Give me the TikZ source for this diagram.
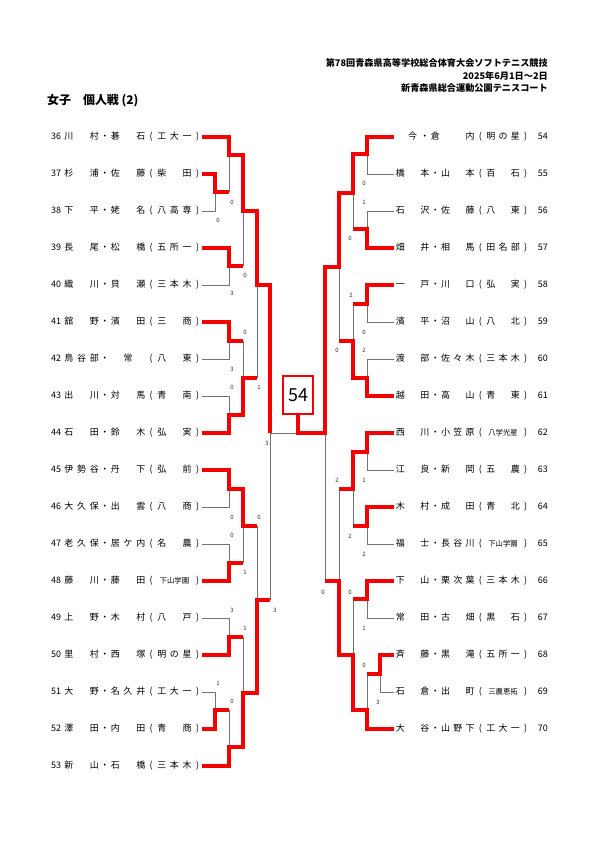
\documentclass[tikz,border=0pt]{standalone}
\usepackage{fontspec}
\setmainfont{Noto Sans CJK JP}
\usepackage{xcolor}
\usepackage{tikz}
\definecolor{winred}{RGB}{245,0,0}
\definecolor{linegray}{RGB}{115,115,115}
\newlength\cw
\newcommand\ch[1]{\makebox[\cw]{#1}}
\newcommand\pa[1]{\makebox[8.3bp]{#1}}
\newcommand\ent[9]{\ch{#1}\ch{#2}\ch{#3}\pa{・}\ch{#4}\ch{#5}\ch{#6}\pa{(}\ch{#7}\ch{#8}\ch{#9}\pa{)}}
\newcommand\lno[1]{\makebox[0pt][r]{#1\hspace{1.5bp}}}
\newcommand\rno[1]{\makebox[0pt][l]{\hspace{8bp}#1}}
\newcommand\sml[1]{{\fontsize{7.4}{8}\selectfont #1}}
\tikzset{
	lname/.style={anchor=east, inner sep=0pt, font=\fontsize{9}{10}\selectfont,
		execute at begin node={\setlength\cw{12.7bp}}},
	rname/.style={anchor=west, inner sep=0pt, font=\fontsize{9}{10}\selectfont,
		execute at begin node={\setlength\cw{12.3bp}}},
	win/.style={draw=winred, line width=3.2bp},
	lose/.style={draw=linegray, line width=0.8bp},
	sc/.style={font=\fontsize{6}{6}\selectfont, inner sep=0pt, text=black!80},
	hdr/.style={anchor=east, inner sep=0pt, font=\bfseries\fontsize{9.2}{10}\selectfont},
	champ/.style={draw=winred, line width=2.2bp, minimum width=30bp, minimum height=38bp,
		inner sep=0pt, font=\fontsize{18}{18}\selectfont},
}
\begin{document}
\begin{tikzpicture}[x=1bp, y=-1bp]
	\useasboundingbox (0,0) rectangle (595,842);
	% header
	\node[hdr] (h1) at (548,63) {第78回青森県高等学校総合体育大会ソフトテニス競技};
	\node[hdr] (h2) at (548,75.5) {2025年6月1日～2日};
	\node[hdr] (h3) at (548,88) {新青森県総合運動公園テニスコート};
	\node[anchor=west, inner sep=0pt, font=\bfseries\fontsize{12}{12}\selectfont] (ttl) at (47,101) {女子　個人戦 (2)};
	% left half
	\node[lname] (e36) at (202,137) {\lno{36}\ent{川}{}{村}{碁}{}{石}{工}{大}{一}};
	\node[lname] (e37) at (202,174) {\lno{37}\ent{杉}{}{浦}{佐}{}{藤}{柴}{}{田}};
	\node[lname] (e38) at (202,211) {\lno{38}\ent{下}{}{平}{姥}{}{名}{八}{高}{専}};
	\node[lname] (e39) at (202,248) {\lno{39}\ent{長}{}{尾}{松}{}{橋}{五}{所}{一}};
	\node[lname] (e40) at (202,285) {\lno{40}\ent{織}{}{川}{貝}{}{瀬}{三}{本}{木}};
	\node[lname] (e41) at (202,322) {\lno{41}\ent{舘}{}{野}{濱}{}{田}{三}{}{商}};
	\node[lname] (e42) at (202,359) {\lno{42}\ent{鳥}{谷}{部}{}{常}{}{八}{}{東}};
	\node[lname] (e43) at (202,396) {\lno{43}\ent{出}{}{川}{対}{}{馬}{青}{}{南}};
	\node[lname] (e44) at (202,433) {\lno{44}\ent{石}{}{田}{鈴}{}{木}{弘}{}{実}};
	\node[lname] (e45) at (202,470) {\lno{45}\ent{伊}{勢}{谷}{丹}{}{下}{弘}{}{前}};
	\node[lname] (e46) at (202,507) {\lno{46}\ent{大}{久}{保}{出}{}{雲}{八}{}{商}};
	\node[lname] (e47) at (202,544) {\lno{47}\ent{老}{久}{保}{居}{ケ}{内}{名}{}{農}};
	\node[lname] (e48) at (202,581) {\lno{48}\ent{藤}{}{川}{藤}{}{田}{}{\sml{下山学園}}{}};
	\node[lname] (e49) at (202,618) {\lno{49}\ent{上}{}{野}{木}{}{村}{八}{}{戸}};
	\node[lname] (e50) at (202,655) {\lno{50}\ent{里}{}{村}{西}{}{塚}{明}{の}{星}};
	\node[lname] (e51) at (202,692) {\lno{51}\ent{大}{}{野}{名}{久}{井}{工}{大}{一}};
	\node[lname] (e52) at (202,729) {\lno{52}\ent{澤}{}{田}{内}{}{田}{青}{}{商}};
	\node[lname] (e53) at (202,766) {\lno{53}\ent{新}{}{山}{石}{}{橋}{三}{本}{木}};
	% right half
	\node[rname] (e54) at (394,137) {\ch{}\ch{今}\ch{・}\pa{倉}\ch{}\ch{}\ch{内}\pa{(}\ch{明}\ch{の}\ch{星}\pa{)}\rno{54}};
	\node[rname] (e55) at (394,174) {\ent{橋}{}{本}{山}{}{本}{百}{}{石}\rno{55}};
	\node[rname] (e56) at (394,211) {\ent{石}{}{沢}{佐}{}{藤}{八}{}{東}\rno{56}};
	\node[rname] (e57) at (394,248) {\ent{畑}{}{井}{相}{}{馬}{田}{名}{部}\rno{57}};
	\node[rname] (e58) at (394,285) {\ent{一}{}{戸}{川}{}{口}{弘}{}{実}\rno{58}};
	\node[rname] (e59) at (394,322) {\ent{濱}{}{平}{沼}{}{山}{八}{}{北}\rno{59}};
	\node[rname] (e60) at (394,359) {\ent{渡}{}{部}{佐}{々}{木}{三}{本}{木}\rno{60}};
	\node[rname] (e61) at (394,396) {\ent{越}{}{田}{高}{}{山}{青}{}{東}\rno{61}};
	\node[rname] (e62) at (394,433) {\ent{西}{}{川}{小}{笠}{原}{}{\sml{八学光星}}{}\rno{62}};
	\node[rname] (e63) at (394,470) {\ent{江}{}{良}{新}{}{岡}{五}{}{農}\rno{63}};
	\node[rname] (e64) at (394,507) {\ent{木}{}{村}{成}{}{田}{青}{}{北}\rno{64}};
	\node[rname] (e65) at (394,544) {\ent{福}{}{士}{長}{谷}{川}{}{\sml{下山学園}}{}\rno{65}};
	\node[rname] (e66) at (394,581) {\ent{下}{}{山}{栗}{次}{葉}{三}{本}{木}\rno{66}};
	\node[rname] (e67) at (394,618) {\ent{常}{}{田}{古}{}{畑}{黒}{}{石}\rno{67}};
	\node[rname] (e68) at (394,655) {\ent{斉}{}{藤}{黒}{}{滝}{五}{所}{一}\rno{68}};
	\node[rname] (e69) at (394,692) {\ent{石}{}{倉}{出}{}{町}{}{\sml{三農恵拓}}{}\rno{69}};
	\node[rname] (e70) at (394,729) {\ent{大}{}{谷}{山}{野}{下}{工}{大}{一}\rno{70}};
	% winner box
	\node[champ] (champ) at (298,395) {54};
	\coordinate (fin) at (298,433);
	% losing lines
	\draw[lose] (e38.east) -| (215,192);
	\draw[lose] (229,155) -- (229,192);
	\draw[lose] (e40.east) -| (229,266);
	\draw[lose] (243,211) -- (243,266);
	\draw[lose] (e42.east) -| (229,341);
	\draw[lose] (e43.east) -| (229,415);
	\draw[lose] (243,341) -- (243,378);
	\draw[lose] (257,285) -- (257,378);
	\draw[lose] (fin) -| (270,600);
	\draw[lose] (e46.east) -| (229,489);
	\draw[lose] (e47.east) -| (229,563);
	\draw[lose] (243,526) -- (243,563);
	\draw[lose] (257,526) -- (257,600);
	\draw[lose] (e49.east) -| (229,637);
	\draw[lose] (243,637) -- (243,693);
	\draw[lose] (e51.east) -| (215,710);
	\draw[lose] (229,710) -- (229,747);
	\draw[lose] (e55.west) -| (367,154);
	\draw[lose] (e56.west) -| (367,229);
	\draw[lose] (353,193) -- (353,229);
	\draw[lose] (e59.west) -| (367,304);
	\draw[lose] (e60.west) -| (367,378);
	\draw[lose] (353,304) -- (353,341);
	\draw[lose] (339,267) -- (339,341);
	\draw[lose] (e63.west) -| (367,452);
	\draw[lose] (e65.west) -| (367,526);
	\draw[lose] (353,489) -- (353,526);
	\draw[lose] (e67.west) -| (367,599);
	\draw[lose] (e69.west) -| (380,674);
	\draw[lose] (367,674) -- (367,710);
	\draw[lose] (353,599) -- (353,655);
	\draw[lose] (339,489) -- (339,581);
	\draw[lose] (325,433) -- (325,581);
	% winning lines, left
	\draw[win] (e36.east) -| (229,155) -| (243,211) -| (257,285) -| (270,433);
	\draw[win] (e37.east) -| (215,192) -- (229,192);
	\draw[win] (e39.east) -| (229,266) -- (243,266);
	\draw[win] (e41.east) -| (229,341) -- (243,341);
	\draw[win] (e44.east) -| (229,415) -| (243,378) -- (257,378);
	\draw[win] (e45.east) -| (229,489) -| (243,526) -- (257,526);
	\draw[win] (e48.east) -| (229,563) -- (243,563);
	\draw[win] (e50.east) -| (229,637) -- (243,637);
	\draw[win] (e52.east) -| (215,710) -- (229,710);
	\draw[win] (e53.east) -| (229,747) -| (243,693) -| (257,600) -- (270,600);
	% winning lines, right
	\draw[win] (e54.west) -| (367,154) -| (353,193) -| (339,267) -| (325,433) -| (champ.south);
	\draw[win] (e57.west) -| (367,229) -- (353,229);
	\draw[win] (e58.west) -| (367,304) -- (353,304);
	\draw[win] (e61.west) -| (367,378) -| (353,341) -- (339,341);
	\draw[win] (e62.west) -| (367,452) -| (353,489) -- (339,489);
	\draw[win] (e64.west) -| (367,526) -- (353,526);
	\draw[win] (e66.west) -| (367,599) -- (353,599);
	\draw[win] (e68.west) -| (380,674) -- (367,674);
	\draw[win] (e70.west) -| (367,710) -| (353,655) -| (339,581) -- (325,581);
	% game scores
	\foreach \x/\y/\s [count=\k] in {232/202/0, 218/220/0, 245/275/0, 232/293/3, 245/332/0, 232/369/3,
		232/387/0, 259/387/1, 267/443/3, 232/517/0, 259/517/0, 232/535/0, 245/572/1, 232/610/3,
		275/610/3, 245/628/1, 218/683/1, 232/701/0, 364/183/0, 364/202/1, 350/238/0, 351/295/2,
		364/332/0, 364/350/2, 337/350/0, 337/480/2, 364/480/1, 350/536/2, 364/554/2, 323/592/0,
		350/592/0, 364/628/1, 364/665/0, 378/702/3}
		\node[sc] (s\k) at (\x,\y) {\s};
\end{tikzpicture}
\end{document}
